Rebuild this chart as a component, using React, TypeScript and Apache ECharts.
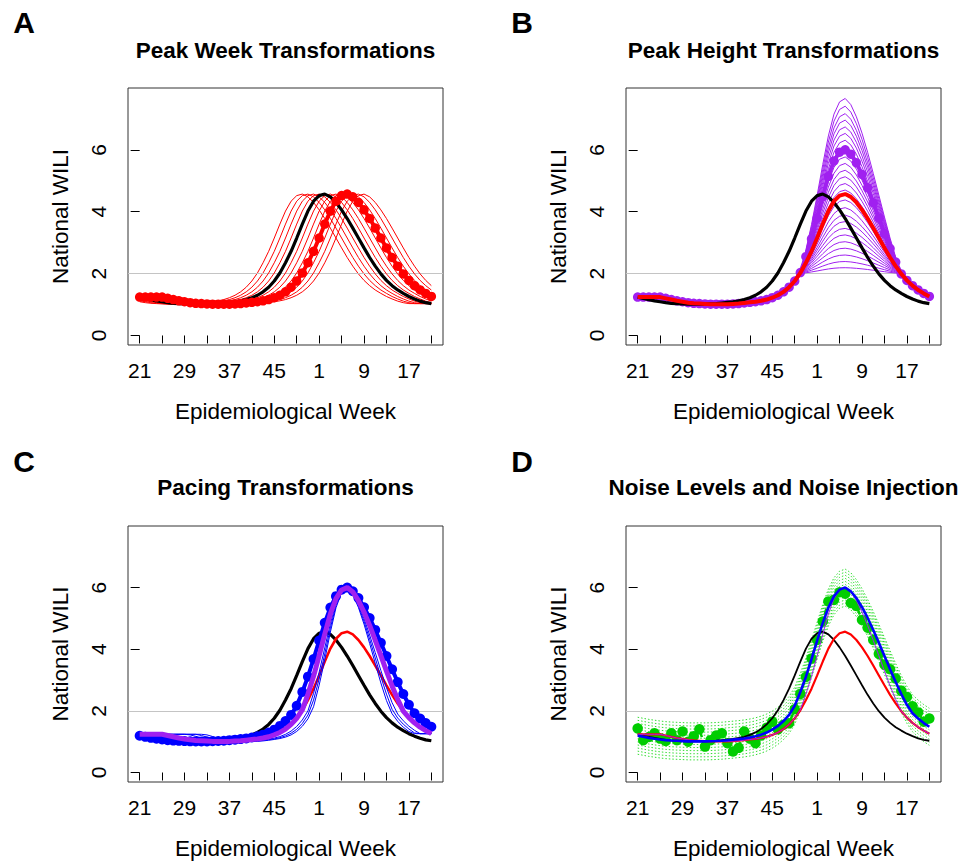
import React, { useEffect, useRef } from "react";
import * as echarts from "echarts";

// ---------- data ----------
const weekLabels = [
  21, 22, 23, 24, 25, 26, 27, 28, 29, 30, 31, 32, 33, 34, 35, 36, 37, 38, 39, 40, 41, 42, 43, 44, 45, 46, 47, 48,
  49, 50, 51, 52, 1, 2, 3, 4, 5, 6, 7, 8, 9, 10, 11, 12, 13, 14, 15, 16, 17, 18, 19, 20, 21,
];
const xTickPositions = [0, 4, 8, 12, 16, 20, 24, 28, 32, 36, 40, 44, 48, 52];
const xLabelPositions = [0, 8, 16, 24, 32, 40, 48];
const yTickValues = [0, 2, 4, 6];

// original season (black)
const originalSeason = [
  1.24, 1.2, 1.16, 1.12, 1.09, 1.06, 1.04, 1.03, 1.02, 1.01, 1.01, 1.01, 1.01, 1.02, 1.03, 1.05, 1.07, 1.09, 1.12,
  1.16, 1.22, 1.3, 1.41, 1.56, 1.76, 2.02, 2.35, 2.72, 3.15, 3.6, 4.02, 4.34, 4.52, 4.57, 4.48, 4.3, 4.06, 3.78,
  3.47, 3.15, 2.83, 2.52, 2.24, 1.99, 1.78, 1.61, 1.47, 1.36, 1.26, 1.18, 1.11, 1.06, 1.03,
];
// chosen peak-week transformation (red, +4 weeks)
const shiftedSeason = [
  1.24, 1.24, 1.24, 1.24, 1.24, 1.2, 1.16, 1.12, 1.09, 1.06, 1.04, 1.03, 1.02, 1.01, 1.01, 1.01, 1.01, 1.02, 1.03,
  1.05, 1.07, 1.09, 1.12, 1.16, 1.22, 1.3, 1.41, 1.56, 1.76, 2.02, 2.35, 2.72, 3.15, 3.6, 4.02, 4.34, 4.52, 4.57,
  4.48, 4.3, 4.06, 3.78, 3.47, 3.15, 2.83, 2.52, 2.24, 1.99, 1.78, 1.61, 1.47, 1.36, 1.26,
];
const peakWeekShifts = [-4, -3, -2, -1, 1, 2, 3, 4, 5, 6, 7];
const onsetThreshold = 2;
const peakHeights = [
  2.19, 2.39, 2.6, 2.82, 3.03, 3.25, 3.46, 3.68, 3.89, 4.13, 4.38, 4.57, 4.7, 4.91, 5.13, 5.34, 5.56, 5.77, 6.0,
  6.1, 6.31, 6.53, 6.74, 6.96, 7.17, 7.41, 7.66,
];
const chosenPeakHeight = 6.0;
const paceRates = [1.16, 1.23, 1.3];
const chosenPace = 0.86;
const noiseOffsets = [-0.6, -0.5, -0.4, -0.3, -0.2, -0.1, 0.1, 0.2, 0.3, 0.4, 0.5, 0.6];
const noisyObservation = [
  1.43, 1.05, 1.15, 1.27, 1.1, 1.02, 1.27, 1.05, 1.33, 1.0, 1.18, 1.4, 0.84, 1.05, 1.2, 1.27, 0.95, 0.68, 0.8, 1.33,
  1.1, 0.95, 1.2, 1.45, 1.65, 1.4, 1.55, 1.6, 2.05, 2.55, 3.1, 3.7, 4.3, 4.9, 5.55, 5.6, 5.85, 5.8, 5.5, 5.4, 4.95,
  4.7, 4.3, 3.85, 3.5, 3.35, 3.05, 2.65, 2.45, 2.15, 1.95, 1.65, 1.75,
];

const titles = [
  "Peak Week Transformations",
  "Peak Height Transformations",
  "Pacing Transformations",
  "Noise Levels and Noise Injection",
];
const panelLetters = ["A", "B", "C", "D"];

// ---------- transformations ----------
const interp = (arr: number[], t: number) => {
  const n = arr.length - 1;
  const c = Math.max(0, Math.min(n, t));
  const i0 = Math.floor(c);
  const i1 = Math.min(n, i0 + 1);
  const f = c - i0;
  return arr[i0] * (1 - f) + arr[i1] * f;
};
const shiftCurve = (arr: number[], s: number) => arr.map((_, i) => interp(arr, i - s));
const scalePeak = (arr: number[], h: number) => {
  const peak = Math.max(...arr);
  const k = (h - onsetThreshold) / (peak - onsetThreshold);
  return arr.map((v) => (v > onsetThreshold ? onsetThreshold + (v - onsetThreshold) * k : v));
};
const paceCurve = (arr: number[], r: number) => {
  const p = arr.indexOf(Math.max(...arr));
  return arr.map((_, i) => interp(arr, p + (i - p) * r));
};

const FONT = "'Liberation Sans', Arial, Helvetica, sans-serif";
const RED = "#ff0000";
const PURPLE = "#a020f0";
const BLUE = "#0000ff";
const GREEN = "#00cd00";

const grids = [
  { left: 128, top: 88, width: 315, height: 257 },
  { left: 626, top: 88, width: 315, height: 257 },
  { left: 128, top: 526, width: 315, height: 256 },
  { left: 626, top: 526, width: 315, height: 256 },
];

export default function App() {
  const ref = useRef<HTMLDivElement>(null);
  useEffect(() => {
    document.body.style.margin = "0";
    if (!ref.current) return;
    const chart = echarts.init(ref.current, undefined, { renderer: "svg" });

    const series: any[] = [];
    const push = (s: any) => series.push({ ...s, z: 2 + series.length });

    const ln = (g: number, values: number[], color: string, width: number, extra: any = {}) => ({
      type: "line",
      xAxisIndex: g,
      yAxisIndex: g,
      data: values.map((v, i) => [i, v]),
      symbol: "none",
      silent: true,
      lineStyle: { color, width, type: "solid" },
      itemStyle: { color },
      ...extra,
    });
    const dotted = (g: number, values: number[], color: string, width: number, size: number, extra: any = {}) =>
      ln(g, values, color, width, {
        symbol: "circle",
        showSymbol: true,
        showAllSymbol: true,
        symbolSize: size,
        ...extra,
      });
    const refLine = (g: number) => ({
      type: "line",
      xAxisIndex: g,
      yAxisIndex: g,
      data: [],
      silent: true,
      markLine: {
        silent: true,
        symbol: ["none", "none"],
        label: { show: false },
        lineStyle: { color: "#c4c4c4", width: 1, type: "solid" },
        data: [{ yAxis: onsetThreshold }],
      },
    });

    const purpleSeason = scalePeak(shiftedSeason, chosenPeakHeight);
    const blueSeason = paceCurve(purpleSeason, chosenPace);

    // A
    push(refLine(0));
    peakWeekShifts.forEach((s) => push(ln(0, shiftCurve(originalSeason, s), RED, 1)));
    push(ln(0, originalSeason, "#000", 3.2));
    push(dotted(0, shiftedSeason, RED, 4, 9.5));
    // B
    push(refLine(1));
    peakHeights.forEach((h) => push(ln(1, scalePeak(shiftedSeason, h), PURPLE, 1)));
    push(dotted(1, purpleSeason, PURPLE, 4, 9.5));
    push(ln(1, originalSeason, "#000", 3.2));
    push(ln(1, shiftedSeason, RED, 4));
    // C
    push(refLine(2));
    push(ln(2, originalSeason, "#000", 3.2));
    push(ln(2, shiftedSeason, RED, 2.6));
    paceRates.forEach((r) => push(ln(2, paceCurve(purpleSeason, r), BLUE, 1)));
    push(dotted(2, blueSeason, BLUE, 4, 10));
    push(ln(2, purpleSeason, PURPLE, 5));
    // D
    push(refLine(3));
    noiseOffsets.forEach((o) =>
      push(ln(3, blueSeason.map((v) => v + o), "#33dd33", 1, { lineStyle: { color: "#33dd33", width: 1, type: [1.5, 2] } }))
    );
    push(dotted(3, noisyObservation, GREEN, 2.5, 10.5, { lineStyle: { color: GREEN, width: 2.5, type: [6, 5] } }));
    push(ln(3, originalSeason, "#000", 1.8));
    push(ln(3, shiftedSeason, RED, 2.2));
    push(ln(3, purpleSeason, PURPLE, 1));
    push(ln(3, blueSeason, BLUE, 2.6));

    const axisText = { color: "#000", fontFamily: FONT };

    const option: any = {
      animation: false,
      backgroundColor: "#fff",
      grid: grids.map((g) => ({ ...g, show: true, borderColor: "#333", borderWidth: 1, backgroundColor: "transparent" })),
      xAxis: grids.map((_, g) => ({
        gridIndex: g,
        type: "value",
        min: -2.08,
        max: 54.08,
        axisLine: { show: false },
        splitLine: { show: false },
        axisTick: { show: true, customValues: xTickPositions, length: 8, lineStyle: { color: "#000", width: 1 } },
        axisLabel: {
          show: true,
          customValues: xLabelPositions,
          formatter: (v: number) => String(weekLabels[Math.round(v)]),
          fontSize: 21,
          margin: 15,
          ...axisText,
        },
        name: "Epidemiological Week",
        nameLocation: "middle",
        nameGap: 55,
        nameTextStyle: { fontSize: 22.5, ...axisText },
      })),
      yAxis: grids.map((_, g) => ({
        gridIndex: g,
        type: "value",
        min: -0.308,
        max: 7.998,
        axisLine: { show: false },
        splitLine: { show: false },
        axisTick: { show: true, customValues: yTickValues, length: 9, lineStyle: { color: "#000", width: 1 } },
        axisLabel: {
          show: true,
          customValues: yTickValues,
          rotate: 90,
          fontSize: 21,
          margin: 19,
          ...axisText,
        },
        name: "National WILI",
        nameLocation: "middle",
        nameGap: 56,
        nameTextStyle: { fontSize: 22.5, ...axisText },
      })),
      graphic: [
        ...titles.map((t, i) => ({
          type: "text",
          x: grids[i].left + grids[i].width / 2,
          y: i < 2 ? 50 : 487,
          silent: true,
          style: { text: t, fontSize: 22.5, fontWeight: "bold", fontFamily: FONT, fill: "#000", align: "center", verticalAlign: "middle" },
        })),
        ...panelLetters.map((t, i) => ({
          type: "text",
          x: i % 2 === 0 ? 24 : 522,
          y: i < 2 ? 22 : 461,
          silent: true,
          style: { text: t, fontSize: 30, fontWeight: "bold", fontFamily: FONT, fill: "#000", align: "center", verticalAlign: "middle" },
        })),
      ],
      series,
    };
    chart.setOption(option);
    return () => chart.dispose();
  }, []);
  return <div ref={ref} style={{ width: 974, height: 861 }} />;
}
